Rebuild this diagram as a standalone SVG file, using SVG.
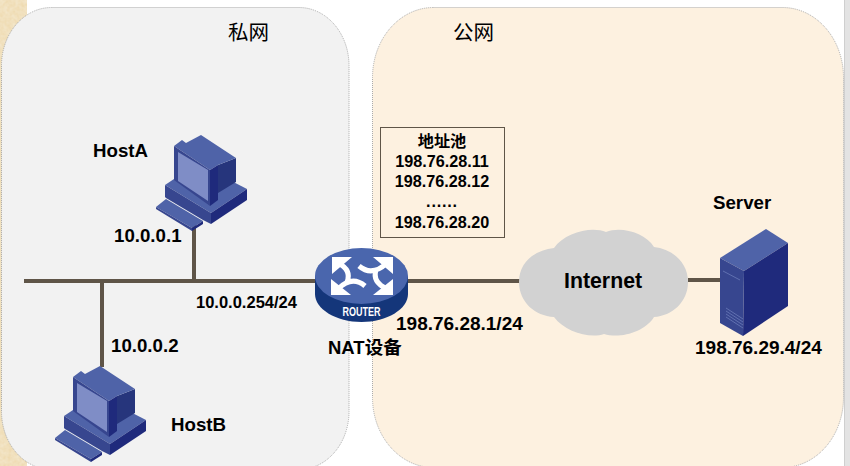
<svg xmlns="http://www.w3.org/2000/svg" width="850" height="466" viewBox="0 0 850 466">
<style>
text{font-family:"Liberation Sans","Noto Sans CJK SC",sans-serif;font-weight:700;fill:#000;font-size:18.7px}
.title{font-family:"Noto Sans CJK SC",sans-serif;font-weight:400;font-size:20.5px}
.pool{font-size:16.2px;text-anchor:middle}
.wire{stroke:#5f5548;stroke-width:4;fill:none}
.panel{stroke:#aaa;stroke-width:1;stroke-dasharray:1 1}
.hi{fill:#4f63a8}.mid{fill:#37468f}.dk{fill:#1f2a7c}.sd{fill:#26357c}.scr{fill:#7f8dc6}
.arr{fill:none;stroke:#fff;stroke-width:5}
</style>
<defs>
<filter id="paper" x="0" y="0" width="100%" height="100%">
<feTurbulence type="fractalNoise" baseFrequency="0.25" numOctaves="3" seed="4"/>
<feColorMatrix type="matrix" values="0 0 0 0 0.90  0 0 0 0 0.80  0 0 0 0 0.60  0 0 0 -1.2 1.1"/>
</filter>
<g id="pc">
<path class="hi" d="M156 207L166 199L203 221L192 228Z"/>
<path class="mid" d="M156 207L192 228L192 231L156 209Z"/>
<path class="dk" d="M192 228L203 221L203 224L192 231Z"/>
<path class="hi" d="M165 185L174 179L210 170L247 189L211 213Z"/>
<path class="mid" d="M165 185L211 213L211 224L203 220L166 198L165 197Z"/>
<path class="dk" d="M211 213L247 189L247 200L211 224Z"/>
<path class="sd" d="M218 165L236 158L236 182L218 193Z"/>
<path class="hi" d="M174 146L182 140L186 143L201 135L236 158L218 165L210 170Z"/>
<path class="mid" d="M174 146L210 170L210 206L174 180Z"/>
<path class="dk" d="M210 170L218 165L218 200L210 206Z"/>
<path class="scr" d="M178 152L208 170L208 201L178 181Z"/>
</g>
</defs>
<rect width="850" height="466" fill="#fff"/>
<rect x="0" y="0" width="27" height="466" fill="#eed9ae"/>
<rect x="0" y="0" width="27" height="466" filter="url(#paper)"/>
<rect x="844" y="0" width="6" height="466" fill="#e3e3e3"/>
<rect x="844" y="0" width="1" height="466" fill="#cfcfcf"/>
<rect class="panel" x="1.5" y="7.5" width="347.5" height="462" rx="50" ry="58" fill="#f2f2f2"/>
<rect class="panel" x="372.5" y="7.5" width="471" height="460" rx="61" ry="70" fill="#fdf1e0"/>
<g id="connectors">
<path class="wire" d="M24 281H315M408 281H520M688 280H720M194 225V281M102 281V367"/>
</g>
<g id="hostA"><use href="#pc"/><text x="93" y="157">HostA</text><text x="114" y="242">10.0.0.1</text></g>
<g id="hostB"><use href="#pc" transform="translate(-101 231)"/><text x="171" y="431">HostB</text><text x="111" y="352">10.0.0.2</text></g>
<g id="router">
<path d="M315 276V294C315 309 336 322 361.5 322S408 309 408 294V276Z" fill="#14367a"/>
<ellipse cx="361.5" cy="276" rx="46.5" ry="28" fill="#4a66ad"/>
<path fill="#fff" d="M332 257H352L332 274ZM393 257H373L393 274ZM331 295H351L331 279ZM393 295H373L393 279Z"/>
<path class="arr" d="M338 263Q352 270 347 282M387 263Q372 277 359 266M338 289Q352 275 365 286M387 289Q372 282 376 270"/>
<text x="361.5" y="316" text-anchor="middle" textLength="38" lengthAdjust="spacingAndGlyphs" style="fill:#fff;font-size:12px">ROUTER</text>
<text x="328" y="354" style="font-size:18.5px">NAT设备</text>
<text x="196" y="308" style="font-size:16.5px">10.0.0.254/24</text>
<text x="396" y="330" style="font-size:19px">198.76.28.1/24</text>
</g>
<g id="pool">
<rect x="380.5" y="127.5" width="124" height="110" fill="none" stroke="#5f5548"/>
<text class="pool" x="442" y="147">地址池</text>
<text class="pool" x="442" y="167">198.76.28.11</text>
<text class="pool" x="442" y="187">198.76.28.12</text>
<text class="pool" x="442" y="207" letter-spacing="0.8">......</text>
<text class="pool" x="442" y="228">198.76.28.20</text>
</g>
<g id="internet">
<path fill="#d2d2d2" d="M554 248C565 232 592 226 606 232C620 226 645 232 654 247C672 249 688 262 688 282C688 302 672 316 654 317C645 332 620 339 604 334C590 339 565 332 554 317C535 316 519 302 519 282C519 262 535 250 554 248Z"/>
<text x="564" y="288" style="font-size:21.3px">Internet</text>
</g>
<g id="server">
<path class="hi" d="M720 258L766 229L788 243L744 271Z"/>
<path class="dk" d="M744 271L788 243V306L743 336Z"/>
<path class="mid" d="M720 258L744 271L743 336L720 323Z"/>
<path fill="none" stroke="#6070b0" d="M723 271L740 280M726 308L743 319M726 311L743 322M726 314L743 325M726 317L743 328"/>
<text x="713" y="209">Server</text>
<text x="695" y="354" style="font-size:19px">198.76.29.4/24</text>
</g>
<g id="labels">
<text class="title" x="228" y="40">私网</text>
<text class="title" x="453" y="40">公网</text>
</g>
</svg>
